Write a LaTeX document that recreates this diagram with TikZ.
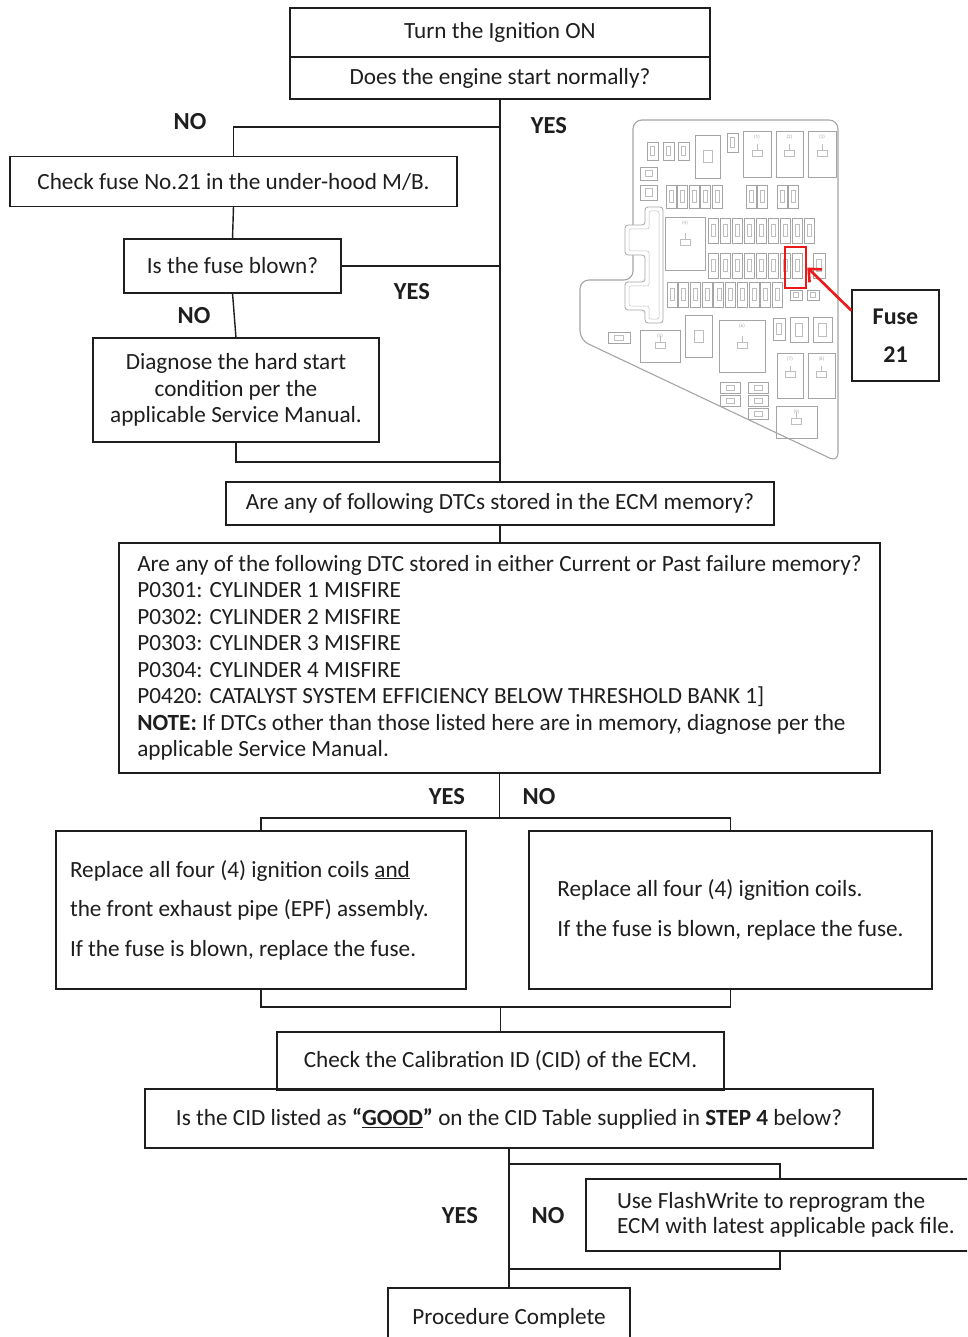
\documentclass[tikz,border=0pt]{standalone}
\usepackage{fontspec}
\setmainfont{Carlito}
\usetikzlibrary{arrows.meta}
\definecolor{ink}{RGB}{30,30,30}
\definecolor{fbline}{RGB}{165,165,165}
\definecolor{fbin}{RGB}{190,190,190}
\definecolor{redmark}{RGB}{235,25,25}
\newcommand\fusecell[4]{\draw[fz] (#1,#2) rectangle ++(#3,#4); \draw[fzi] ({#1+#3*0.3},{#2+#4*0.25}) rectangle ++({#3*0.4},{#4*0.5});}
\newcommand\relaybox[5]{\draw[fz] (#1,#2) rectangle (#3,#4); \node[fzt] at ({(#1+#3)/2},{#2+6}) {#5}; \draw[fzi] ({(#1+#3)/2-5},{(#2+#4)/2+2}) rectangle ++(10,-6); \draw[fzi] ({(#1+#3)/2},{(#2+#4)/2-4}) -- ++(0,-6);}
\begin{document}
\begin{tikzpicture}[x=1pt,y=-1pt,
  box/.style={draw=ink, line width=1.4pt, inner sep=0pt, outer sep=0pt, align=center, text=ink, font=\fontsize{23.2}{26.5}\selectfont},
  lab/.style={font=\bfseries\fontsize{24.5}{26}\selectfont, text=ink, inner sep=0pt},
  conn/.style={draw=ink, line width=1.4pt},
  fz/.style={draw=fbline, line width=0.8pt},
  fzi/.style={draw=fbin, line width=0.5pt},
  fzt/.style={text=fbline, font=\fontsize{5}{5}\selectfont, inner sep=0pt},
]
\useasboundingbox (0,0) rectangle (967,1337);
\clip (0,0) rectangle (967,1337);
\fill[white] (0,0) rectangle (967,1337);

% ---------- fuse box illustration ----------
\draw[fz, line width=1.1pt, rounded corners=9pt] (633,280) -- (633,120) -- (838,120) -- (838,462) -- (580,340) -- (580,280) -- cycle;
\draw[fz, fill=white, rounded corners=3pt] (645,207) -- (663,207) -- (663,323) -- (645,323) -- (645,310) -- (625,310) -- (625,282) -- (645,282) -- (645,255) -- (625,255) -- (625,225) -- (645,225) -- cycle;
\draw[fzi, rounded corners=2pt] (649,211) -- (659,211) -- (659,319) -- (649,319) -- (649,306) -- (629,306) -- (629,286) -- (649,286) -- (649,251) -- (629,251) -- (629,229) -- (649,229) -- cycle;
\foreach \x in {647,663,678} {\fusecell{\x}{142}{11}{18}}
\draw[fz] (695,135) rectangle (720,178);
\draw[fzi] (703,150) rectangle (712,162);
\fusecell{727}{133}{11}{19}
\relaybox{743}{131}{771}{177}{(1)}
\relaybox{776}{131}{803}{177}{(2)}
\relaybox{808}{131}{836}{177}{(3)}
\fusecell{640}{167}{17}{13}
\fusecell{640}{185}{17}{15}
\foreach \i in {0,...,4} {\fusecell{666+11.5*\i}{185}{10}{23}}
\foreach \x in {746,757.5,777,788.5} {\fusecell{\x}{185}{10}{23}}
\relaybox{665}{217}{705}{270}{(4)}
\foreach \i in {0,...,8} {\fusecell{708+12*\i}{218}{10}{25}}
\foreach \i in {0,...,7} {\fusecell{708+12*\i}{253}{10}{25}}
\fusecell{813}{253}{12}{25}
\foreach \i in {0,...,9} {\fusecell{667+11.7*\i}{282}{10}{25}}
\fusecell{790}{290}{12}{10}
\fusecell{807}{290}{12}{10}
\fusecell{608}{332}{22}{11}
\relaybox{640}{330}{680}{362}{(5)}
\draw[fz] (685,315) rectangle (712,357);
\draw[fzi] (694,330) rectangle (703,342);
\relaybox{719}{320}{765}{372}{(6)}
\fusecell{773}{318}{12}{22}
\fusecell{790}{317}{18}{25}
\fusecell{813}{317}{19}{25}
\relaybox{777}{353}{803}{398}{(7)}
\relaybox{808}{353}{835}{398}{(8)}
\foreach \y in {382,395} {\fusecell{720}{\y}{20}{11}}
\foreach \y in {382,395,408} {\fusecell{748}{\y}{20}{11}}
\relaybox{776}{406}{817}{438}{(9)}

\node[draw=redmark, line width=2.6pt, minimum width=21pt, minimum height=41pt, inner sep=0pt] (redsq) at (795.5,267.5) {};
\node[draw=ink, line width=1.4pt, minimum width=87pt, minimum height=91pt, inner sep=0pt, align=center, text=ink, font=\bfseries\fontsize{24}{38}\selectfont] (fuselbl) at (895.5,335.5) {Fuse\\21};
\draw[redmark, line width=2.6pt, -{Straight Barb[length=10pt,width=18pt,line width=2.6pt]}] ([yshift=25pt]fuselbl.west) -- (redsq.east);

% ---------- boxes ----------
\node[box, minimum width=420pt, minimum height=49pt] (ign) at (500,32.5) {Turn the Ignition ON};
\node[box, minimum width=420pt, minimum height=42pt] (start) at (500,78) {Does the engine start normally?};
\node[box, minimum width=447pt, minimum height=50pt] (chk) at (233.5,181.5) {Check fuse No.21 in the under-hood M/B.};
\node[box, minimum width=217pt, minimum height=54pt] (blown) at (232.5,266) {Is the fuse blown?};
\node[box, minimum width=286pt, minimum height=104pt] (diag) at (236,390) {Diagnose the hard start\\condition per the\\applicable Service Manual.};
\node[box, minimum width=548pt, minimum height=43pt] (dtc) at (500,503.5) {Are any of following DTCs stored in the ECM memory?};
\node[box, minimum width=761pt, minimum height=230pt, align=flush left] (big) at (499.5,658) {Are any of the following DTC stored in either Current or Past failure memory?\\
P0301: CYLINDER 1 MISFIRE\\
P0302: CYLINDER 2 MISFIRE\\
P0303: CYLINDER 3 MISFIRE\\
P0304: CYLINDER 4 MISFIRE\\
P0420: CATALYST SYSTEM EFFICIENCY BELOW THRESHOLD BANK 1]\\
\textbf{NOTE:} If DTCs other than those listed here are in memory, diagnose per the\\
applicable Service Manual.};
\node[box, minimum width=410pt, minimum height=158pt, text width=382pt, inner xsep=14pt, align=flush left, font=\fontsize{23.2}{39.5}\selectfont] (yesbox) at (261,910) {Replace all four (4) ignition coils \underline{and}\\the front exhaust pipe (EPF) assembly.\\If the fuse is blown, replace the fuse.};
\node[box, minimum width=403pt, minimum height=158pt, align=flush left, font=\fontsize{23.2}{39.5}\selectfont] (nobox) at (730.5,910) {Replace all four (4) ignition coils.\\If the fuse is blown, replace the fuse.};
\node[box, minimum width=728pt, minimum height=59pt] (iscid) at (509,1118.5) {Is the CID listed as \textbf{“\underline{GOOD}”} on the CID Table supplied in \textbf{STEP 4} below?};
\node[box, minimum width=447pt, minimum height=58pt] (cid) at (500.5,1061) {Check the Calibration ID (CID) of the ECM.};
\node[box, anchor=north west, minimum height=72pt, text width=350pt, inner xsep=31pt, align=flush left, font=\fontsize{23.2}{25}\selectfont] (flash) at (586,1179) {Use FlashWrite to reprogram the\\ECM with latest applicable pack file.};
\node[box, anchor=north, minimum width=242pt, minimum height=60pt] (proc) at (509,1288) {Procedure Complete};

% ---------- connectors ----------
\coordinate (j1) at (500,127);
\coordinate (j2) at (500,462);
\coordinate (j3) at (500,818);
\coordinate (j4) at (500.5,1007);
\coordinate (j5) at (509,1164);
\coordinate (j6) at (509,1269);
\coordinate (k1) at (780,1164);
\coordinate (k2) at (780,1269);
\draw[conn] (start.south) -- (dtc.north);
\draw[conn] (j1) -| (chk.north);
\draw[conn] (chk.south) -- (blown.north);
\draw[conn] (blown.east) -- (blown.east -| start.south);
\draw[conn] (blown.south) -- (diag.north);
\draw[conn] (diag.south) |- (j2);
\draw[conn] (dtc.south) -- (dtc.south |- big.north);
\draw[conn] (big.south) -- (big.south |- j3);
\draw[conn] (yesbox.north) |- (j3) -| (nobox.north);
\draw[conn] (yesbox.south) |- (j4) -| (nobox.south);
\draw[conn] (j4) -- (cid.north);
\draw[conn] (iscid.south) -- (proc.north);
\draw[conn] (j5) -- (k1) -- (k1 |- flash.north);
\draw[conn] (k2 |- flash.south) -- (k2) -- (j6);

% ---------- labels ----------
\node[lab] (l1) at (190,122) {NO};
\node[lab] (l2) at (549,126) {YES};
\node[lab] (l3) at (412,292) {YES};
\node[lab] (l4) at (194,316) {NO};
\node[lab] (l5) at (447,797) {YES};
\node[lab] (l6) at (539,797) {NO};
\node[lab] (l7) at (460,1216) {YES};
\node[lab] (l8) at (548,1216) {NO};
\end{tikzpicture}
\end{document}
